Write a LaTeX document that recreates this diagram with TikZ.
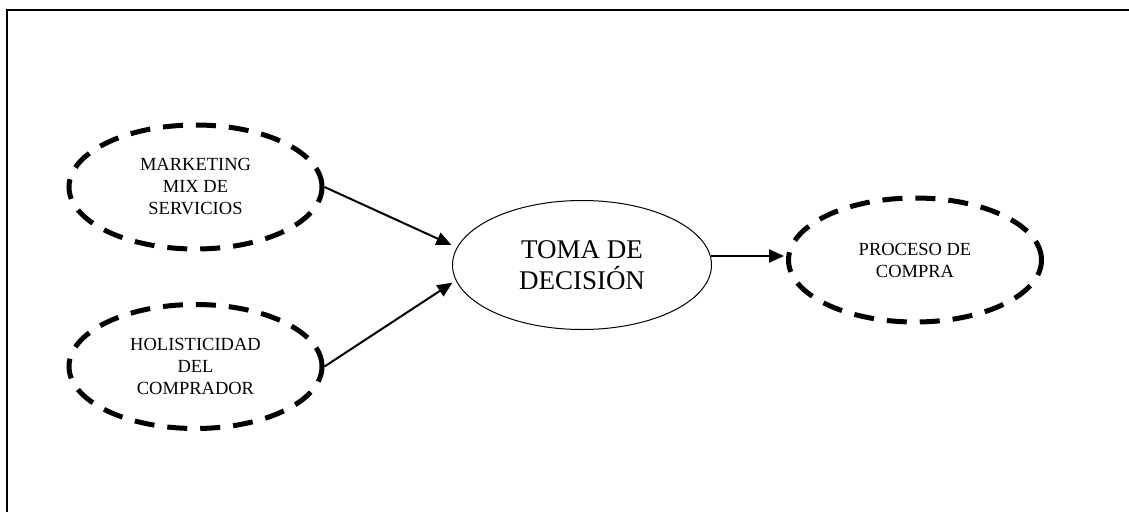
\documentclass[tikz,border=0pt]{standalone}
\usepackage{fontspec}
\setmainfont{Liberation Serif}
\usetikzlibrary{arrows.meta,shapes.geometric}
\begin{document}
\begin{tikzpicture}[x=1pt,y=-1pt,
  dashell/.style={ellipse, draw, line width=5pt, dash pattern=on 20pt off 13pt,
    minimum width=253pt, minimum height=124pt, inner sep=0pt, align=center,
    font=\fontsize{18.5}{22}\selectfont},
  mainell/.style={ellipse, draw, line width=1pt, minimum width=259pt,
    minimum height=129pt, inner sep=0pt, align=center,
    font=\fontsize{27}{31}\selectfont},
  link/.style={line width=2pt, -{Triangle[length=15pt,width=13pt]}},
  frame/.style={line width=2.5pt}]
\useasboundingbox (0,0) rectangle (1129,511);
% outer frame (top and left edges)
\draw[frame] (7,512) -- (7,10) -- (1130,10);

% concepts
\node[dashell] (mk) at (195.5,187) {MARKETING\\MIX DE\\SERVICIOS};
\node[dashell] (ho) at (195.5,366.5) {HOLISTICIDAD\\DEL\\COMPRADOR};
\node[mainell] (toma) at (582,265) {TOMA DE\\DECISIÓN};
\node[dashell] (pr) at (915,260) {PROCESO DE\\COMPRA};

% influences
\draw[link, shorten >=6pt] (mk.east) -- (toma.172);
\draw[link, shorten >=4pt] (ho.east) -- (toma.187);
\draw[link, shorten >=2pt] (toma.4) -- (toma.4 -| pr.west);
\end{tikzpicture}
\end{document}
